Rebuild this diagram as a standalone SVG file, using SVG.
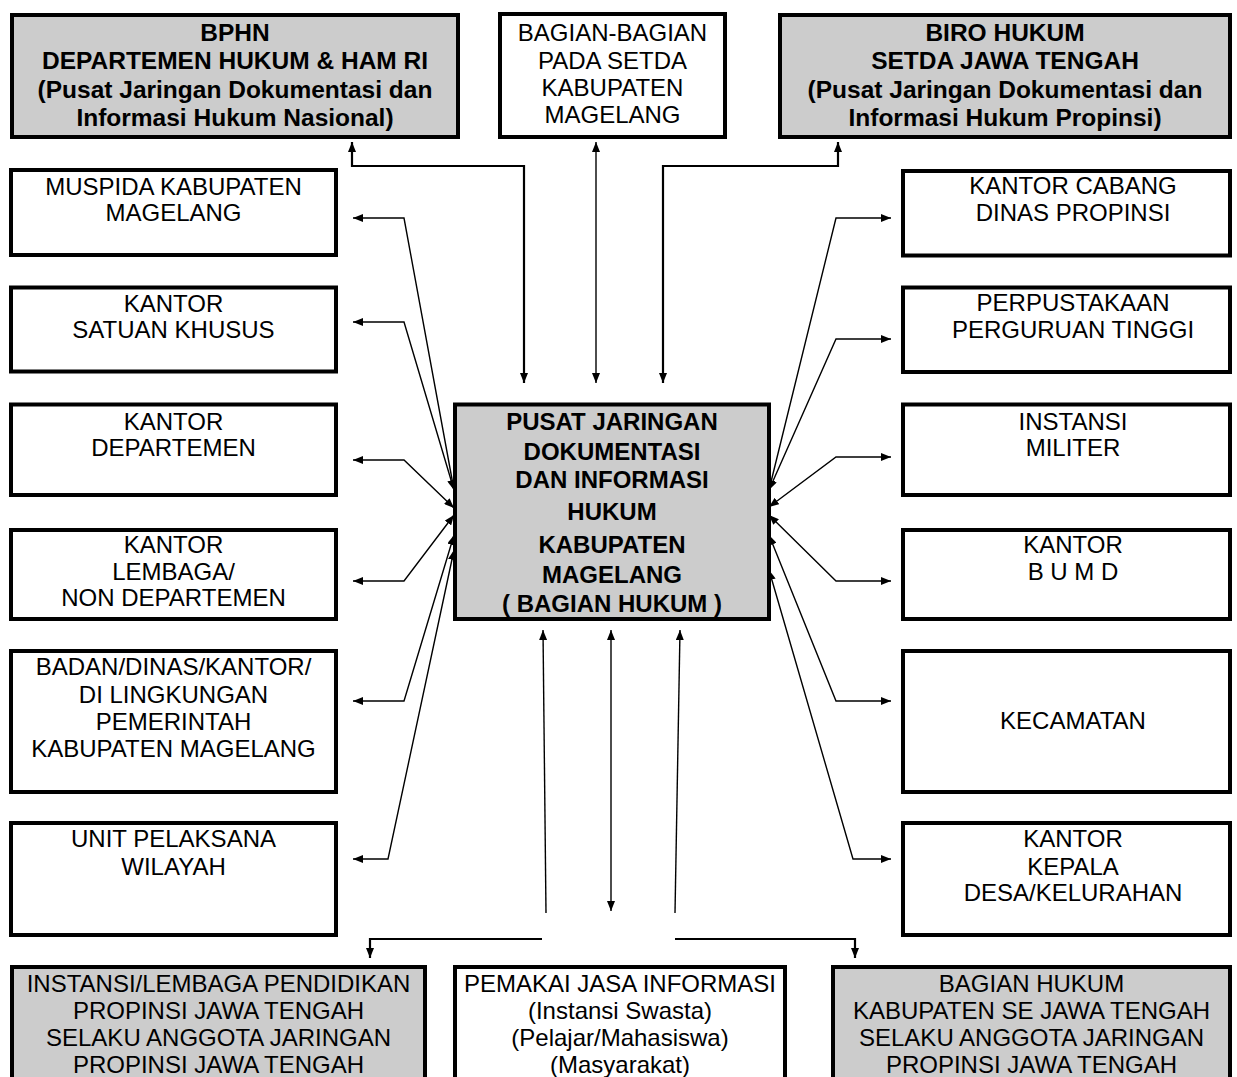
<svg xmlns="http://www.w3.org/2000/svg" width="1237" height="1077" viewBox="0 0 1237 1077">
<style>
.box{fill:#fff;stroke:#000;stroke-width:4}
.gbox{fill:#cccccc;stroke:#000;stroke-width:4}
.t{font-family:"Liberation Sans",Arial,sans-serif;font-size:24px;text-anchor:middle;fill:#000}
.b{font-family:"Liberation Sans",Arial,sans-serif;font-size:24px;font-weight:bold;text-anchor:middle;fill:#000}
.bt{font-size:24.5px}
.ln{fill:none;stroke:#000;stroke-width:1.4}
.lt{fill:none;stroke:#000;stroke-width:2.2}
</style>
<defs>
<marker id="ah" viewBox="0 0 10 8" refX="10" refY="4" markerWidth="10" markerHeight="8" orient="auto-start-reverse" markerUnits="userSpaceOnUse"><path d="M0,0 L10,4 L0,8 z" fill="#000"/></marker>
</defs>
<rect width="1237" height="1077" fill="#fff"/>

<g id="bphn">
<rect class="gbox" x="12" y="15" width="446" height="122"/>
<text class="b bt" x="235" y="41">BPHN</text>
<text class="b bt" x="235" y="69">DEPARTEMEN HUKUM &amp; HAM RI</text>
<text class="b bt" x="235" y="98">(Pusat Jaringan Dokumentasi dan</text>
<text class="b bt" x="235" y="126">Informasi Hukum Nasional)</text>
</g>
<g id="bagian-setda">
<rect class="box" x="500" y="14" width="225" height="123"/>
<text class="t" x="612.5" y="41">BAGIAN-BAGIAN</text>
<text class="t" x="612.5" y="69">PADA SETDA</text>
<text class="t" x="612.5" y="96">KABUPATEN</text>
<text class="t" x="612.5" y="123">MAGELANG</text>
</g>
<g id="biro-hukum">
<rect class="gbox" x="780" y="15" width="450" height="122"/>
<text class="b bt" x="1005" y="41">BIRO HUKUM</text>
<text class="b bt" x="1005" y="69">SETDA JAWA TENGAH</text>
<text class="b bt" x="1005" y="98">(Pusat Jaringan Dokumentasi dan</text>
<text class="b bt" x="1005" y="126">Informasi Hukum Propinsi)</text>
</g>

<g id="muspida">
<rect class="box" x="11" y="170" width="325" height="85"/>
<text class="t" x="173.5" y="195">MUSPIDA KABUPATEN</text>
<text class="t" x="173.5" y="221">MAGELANG</text>
</g>
<g id="satuan-khusus">
<rect class="box" x="11" y="287.5" width="325" height="84"/>
<text class="t" x="173.5" y="312">KANTOR</text>
<text class="t" x="173.5" y="338">SATUAN KHUSUS</text>
</g>
<g id="kantor-departemen">
<rect class="box" x="11" y="404.5" width="325" height="90.5"/>
<text class="t" x="173.5" y="430">KANTOR</text>
<text class="t" x="173.5" y="456">DEPARTEMEN</text>
</g>
<g id="kantor-lembaga">
<rect class="box" x="11" y="530" width="325" height="89"/>
<text class="t" x="173.5" y="553">KANTOR</text>
<text class="t" x="173.5" y="580">LEMBAGA/</text>
<text class="t" x="173.5" y="606">NON DEPARTEMEN</text>
</g>
<g id="badan-dinas">
<rect class="box" x="11" y="651" width="325" height="141"/>
<text class="t" x="173.5" y="675">BADAN/DINAS/KANTOR/</text>
<text class="t" x="173.5" y="703">DI LINGKUNGAN</text>
<text class="t" x="173.5" y="730">PEMERINTAH</text>
<text class="t" x="173.5" y="757">KABUPATEN MAGELANG</text>
</g>
<g id="unit-pelaksana">
<rect class="box" x="11" y="823" width="325" height="112"/>
<text class="t" x="173.5" y="847">UNIT PELAKSANA</text>
<text class="t" x="173.5" y="875">WILAYAH</text>
</g>

<g id="kantor-cabang">
<rect class="box" x="903" y="171" width="327" height="84.5"/>
<text class="t" x="1073" y="194">KANTOR CABANG</text>
<text class="t" x="1073" y="221">DINAS PROPINSI</text>
</g>
<g id="perpustakaan">
<rect class="box" x="903" y="287.5" width="327" height="84.5"/>
<text class="t" x="1073" y="311">PERPUSTAKAAN</text>
<text class="t" x="1073" y="338">PERGURUAN TINGGI</text>
</g>
<g id="instansi-militer">
<rect class="box" x="903" y="404.5" width="327" height="90.5"/>
<text class="t" x="1073" y="430">INSTANSI</text>
<text class="t" x="1073" y="456">MILITER</text>
</g>
<g id="kantor-bumd">
<rect class="box" x="903" y="530" width="327" height="89"/>
<text class="t" x="1073" y="553">KANTOR</text>
<text class="t" x="1073" y="580">B U M D</text>
</g>
<g id="kecamatan">
<rect class="box" x="903" y="651" width="327" height="141"/>
<text class="t" x="1073" y="729">KECAMATAN</text>
</g>
<g id="kepala-desa">
<rect class="box" x="903" y="823" width="327" height="112"/>
<text class="t" x="1073" y="847">KANTOR</text>
<text class="t" x="1073" y="875">KEPALA</text>
<text class="t" x="1073" y="901">DESA/KELURAHAN</text>
</g>

<g id="pusat">
<rect class="gbox" x="455" y="404.5" width="314" height="214.5"/>
<text class="b" x="612" y="430">PUSAT JARINGAN</text>
<text class="b" x="612" y="460">DOKUMENTASI</text>
<text class="b" x="612" y="488">DAN INFORMASI</text>
<text class="b" x="612" y="520">HUKUM</text>
<text class="b" x="612" y="553">KABUPATEN</text>
<text class="b" x="612" y="583">MAGELANG</text>
<text class="b" x="612" y="612">( BAGIAN HUKUM )</text>
</g>

<g id="instansi-pendidikan">
<rect class="gbox" x="12" y="967" width="413" height="130"/>
<text class="t" x="218.5" y="992">INSTANSI/LEMBAGA PENDIDIKAN</text>
<text class="t" x="218.5" y="1019">PROPINSI JAWA TENGAH</text>
<text class="t" x="218.5" y="1046">SELAKU ANGGOTA JARINGAN</text>
<text class="t" x="218.5" y="1073">PROPINSI JAWA TENGAH</text>
</g>
<g id="pemakai">
<rect class="box" x="455" y="967" width="330" height="130"/>
<text class="t" x="620" y="992">PEMAKAI JASA INFORMASI</text>
<text class="t" x="620" y="1019">(Instansi Swasta)</text>
<text class="t" x="620" y="1046">(Pelajar/Mahasiswa)</text>
<text class="t" x="620" y="1073">(Masyarakat)</text>
</g>
<g id="bagian-hukum-kab">
<rect class="gbox" x="833" y="967" width="397" height="130"/>
<text class="t" x="1031.5" y="992">BAGIAN HUKUM</text>
<text class="t" x="1031.5" y="1019">KABUPATEN SE JAWA TENGAH</text>
<text class="t" x="1031.5" y="1046">SELAKU ANGGOTA JARINGAN</text>
<text class="t" x="1031.5" y="1073">PROPINSI JAWA TENGAH</text>
</g>

<g id="connectors">
<path class="lt" d="M524,383 V166 H352 V142" marker-start="url(#ah)" marker-end="url(#ah)"/>
<path class="ln" d="M596,142 V383" marker-start="url(#ah)" marker-end="url(#ah)"/>
<path class="lt" d="M663,383 V166 H838 V142" marker-start="url(#ah)" marker-end="url(#ah)"/>

<path class="ln" d="M353,218 H404 L454,490" marker-start="url(#ah)" marker-end="url(#ah)"/>
<path class="ln" d="M353,322 H404 L454,490" marker-start="url(#ah)" marker-end="url(#ah)"/>
<path class="ln" d="M353,460 H404 L454,508" marker-start="url(#ah)" marker-end="url(#ah)"/>
<path class="ln" d="M353,581 H404 L454,515" marker-start="url(#ah)" marker-end="url(#ah)"/>
<path class="ln" d="M353,701 H404 L454,535" marker-start="url(#ah)" marker-end="url(#ah)"/>
<path class="ln" d="M353,859 H388 L454,550" marker-start="url(#ah)" marker-end="url(#ah)"/>

<path class="ln" d="M891,218 H836 L769,490" marker-start="url(#ah)" marker-end="url(#ah)"/>
<path class="ln" d="M891,339 H836 L769,490" marker-start="url(#ah)" marker-end="url(#ah)"/>
<path class="ln" d="M891,457 H836 L769,507" marker-start="url(#ah)" marker-end="url(#ah)"/>
<path class="ln" d="M891,581 H836 L769,515" marker-start="url(#ah)" marker-end="url(#ah)"/>
<path class="ln" d="M891,701 H836 L769,535" marker-start="url(#ah)" marker-end="url(#ah)"/>
<path class="ln" d="M891,859 H853 L769,570" marker-start="url(#ah)" marker-end="url(#ah)"/>

<path class="ln" d="M546,913 L543,630" marker-end="url(#ah)"/>
<path class="ln" d="M611,630 V911" marker-start="url(#ah)" marker-end="url(#ah)"/>
<path class="ln" d="M675,913 L680,630" marker-end="url(#ah)"/>
<path class="lt" d="M542,939 H370 V958" marker-end="url(#ah)"/>
<path class="lt" d="M675,939 H855 V958" marker-end="url(#ah)"/>
</g>
</svg>
